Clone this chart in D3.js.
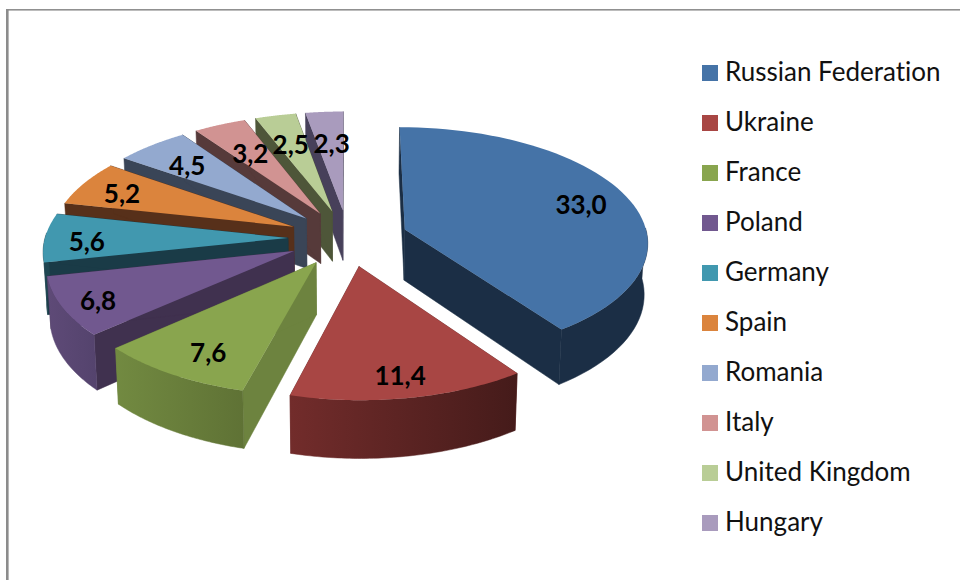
<!DOCTYPE html>
<html>
<head>
<meta charset="utf-8">
<script src="https://cdn.jsdelivr.net/npm/d3@7"></script>
<style>
html,body{margin:0;padding:0;background:#fff;overflow:hidden}
svg{display:block}
text{font-family:Lato,"Open Sans",sans-serif;font-variant-ligatures:none}
</style>
</head>
<body>
<svg id="chart" width="960" height="580"></svg>
<script>
const categories = ["Russian Federation","Ukraine","France","Poland","Germany","Spain","Romania","Italy","United Kingdom","Hungary"];
const values = [33.0,11.4,7.6,6.8,5.6,5.2,4.5,3.2,2.5,2.3];
const topColors = ["#4573a7","#a84644","#89a54e","#71588f","#4198af","#db843d","#93a9cf","#d19392","#b9cd96","#a99bbd"];
const sideColors = ["#1b2e45","#6b2b2a","#6d833f","#40314f","#1a3b47","#57301a","#3a4557","#563a3a","#4e5639","#47405a"];
const wallLeft = ["#1b2e45","#722c2b","#728a41","#5e4a77","#1f4652","#6b3c1c","#4c5a70","#6a4a4a","#5f6b46","#56496c"];
const wallRight = ["#1b2e45","#451b1a","#5f7235","#54436d","#1f4652","#6b3c1c","#4c5a70","#6a4a4a","#5f6b46","#56496c"];
const labelNudge = [[9,0],[4,13],[-2,8],[-24,8],[-19,3],[-13,-1],[-1,2],[7,7],[2,6],[3,8]];
const paintOrder = [9,8,7,6,5,4,3,2,0,1];

const cx = 348, cy = 238, explode = 60, radius = 243, tilt = 0.47, persp = 0.000413, height = 51, shrink = 0.988;

const project = (X, Yf, z = 0) => {
  const s = 1 / (1 - persp * Yf);
  const q = z ? shrink : 1;
  return [cx + X * s * q, cy + tilt * Yf * s + z * s];
};
const polar = (a, r) => [r * Math.sin(a), -r * Math.cos(a)];

const svg = d3.select("#chart");
const defs = svg.append("defs");
const line = d3.line();

// frame
svg.append("rect").attr("x",6).attr("y",9).attr("width",954).attr("height",1.6).attr("fill","#909090");
svg.append("rect").attr("x",6).attr("y",9).attr("width",2.6).attr("height",571).attr("fill","#8c8c8c");

const arcs = d3.pie().sort(null).value(d => d)(values);

paintOrder.forEach(i => {
  const a = arcs[i];
  const mid = (a.startAngle + a.endAngle) / 2;
  const [ox, oy] = polar(mid, explode);
  const rim = d3.range(0, 61).map(t => a.startAngle + (a.endAngle - a.startAngle) * t / 60);
  const rimPt = z => rim.map(t => { const [x,y] = polar(t, radius); return project(ox + x, oy + y, z); });
  const apex = z => project(ox, oy, z);
  const g = svg.append("g");

  // radial walls
  [0, 60].forEach(k => {
    g.append("path")
      .attr("d", line([apex(0), rimPt(0)[k], rimPt(height)[k], apex(height)]) + "Z")
      .attr("fill", sideColors[i])
      .attr("stroke", sideColors[i]).attr("stroke-width", 0.5);
  });

  // outer wall: only the rim that faces the viewer
  const front = rim.map((t,k) => k).filter(k => Math.cos(rim[k]) < 0.05);
  if (front.length > 1) {
    const upper = rimPt(0), lower = rimPt(height);
    const pts = front.map(k => upper[k]).concat(front.map(k => lower[k]).reverse());
    const gid = "wall" + i;
    const xs = d3.extent(pts, p => p[0]);
    const lg = defs.append("linearGradient").attr("id", gid)
      .attr("gradientUnits","userSpaceOnUse")
      .attr("x1", xs[0]).attr("x2", xs[1]).attr("y1",0).attr("y2",0);
    lg.append("stop").attr("offset",0).attr("stop-color", wallLeft[i]);
    lg.append("stop").attr("offset",1).attr("stop-color", wallRight[i]);
    g.append("path").attr("d", line(pts) + "Z").attr("fill", `url(#${gid})`)
      .attr("stroke", `url(#${gid})`).attr("stroke-width", 0.5);
  }

  // top face
  g.append("path")
    .attr("d", line([apex(0)].concat(rimPt(0))) + "Z")
    .attr("fill", topColors[i]);
});

// value labels
const fmt = v => v.toFixed(1).replace(".", ",");
arcs.forEach((a, i) => {
  const mid = (a.startAngle + a.endAngle) / 2;
  const [X, Y] = polar(mid, explode + radius * 0.75);
  const [x, y] = project(X, Y);
  svg.append("text")
    .attr("x", x + labelNudge[i][0]).attr("y", y + labelNudge[i][1])
    .attr("text-anchor","middle").attr("dominant-baseline","central")
    .attr("font-size", 26).attr("font-weight", 700).attr("fill","#000")
    .text(fmt(values[i]));
});

// legend
const legendY = d3.scalePoint().domain(categories).range([73, 523]);
const legend = svg.append("g").selectAll("g").data(categories).join("g")
  .attr("transform", d => `translate(702,${legendY(d)})`);
legend.append("rect").attr("x",0).attr("y",-8).attr("width",16).attr("height",16)
  .attr("fill",(d,i) => topColors[i]);
legend.append("text").attr("x",23).attr("y",-2).attr("dominant-baseline","central")
  .attr("font-size",26).attr("fill","#111").text(d => d);
</script>
</body>
</html>
